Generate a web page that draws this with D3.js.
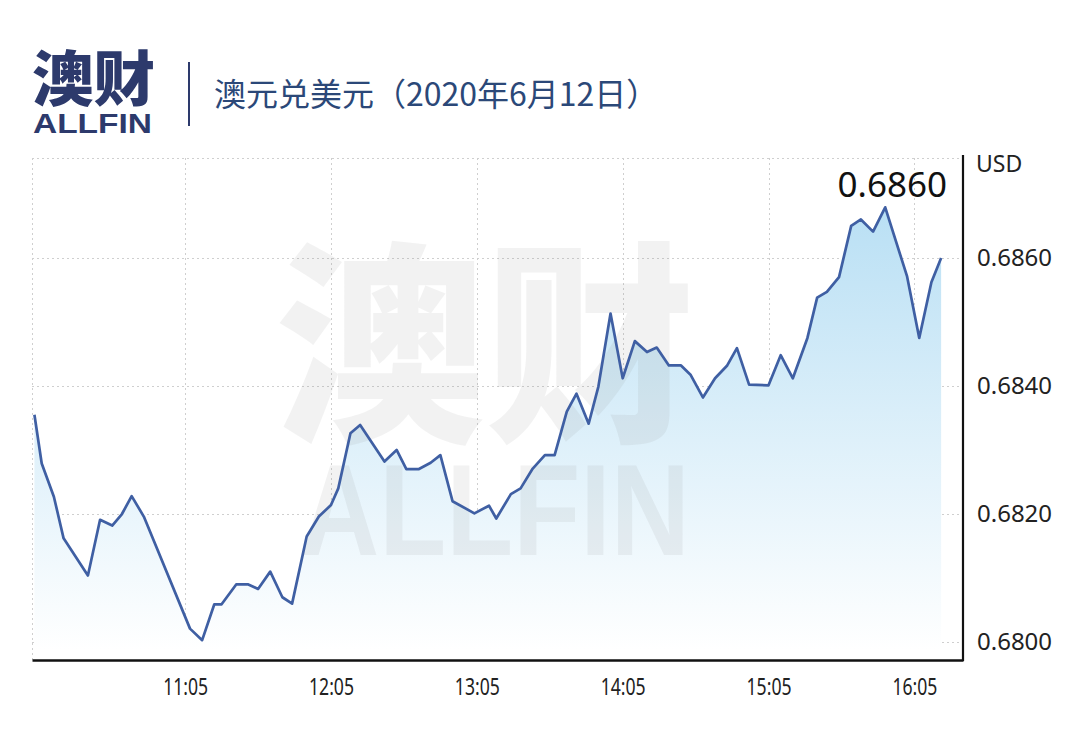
<!DOCTYPE html>
<html><head><meta charset="utf-8">
<script src="https://cdn.jsdelivr.net/npm/d3@7"></script>
<style>html,body{margin:0;padding:0;background:#fff;} svg{display:block}</style>
</head><body><svg id="c" width="1067" height="733"></svg>
<script>
// ---- data ----
const times = ["10:03","10:06","10:11","10:15","10:25","10:30","10:35","10:39","10:43","10:48",
  "11:07","11:12","11:17","11:20","11:26","11:31","11:35","11:40","11:45","11:49",
  "11:55","12:00","12:05","12:08","12:13","12:17","12:27","12:32","12:36","12:41",
  "12:46","12:50","12:55","13:04","13:10","13:13","13:19","13:23","13:28","13:33",
  "13:37","13:42","13:46","13:51","13:55","14:00","14:05","14:10","14:15","14:19",
  "14:24","14:29","14:33","14:38","14:43","14:48","14:52","14:57","15:05","15:10",
  "15:15","15:21","15:25","15:29","15:34","15:39","15:43","15:48","15:53","16:02",
  "16:07","16:12","16:16"];
const values = [0.68355,0.68279,0.68227,0.68162,0.68104,0.68191,0.68182,0.68200,0.68228,0.68196,
  0.68021,0.68003,0.68059,0.68059,0.68090,0.68090,0.68083,0.68110,0.68070,0.68060,
  0.68165,0.68196,0.68214,0.68240,0.68326,0.68339,0.68282,0.68300,0.68270,0.68270,
  0.68280,0.68292,0.68220,0.68201,0.68213,0.68193,0.68231,0.68240,0.68271,0.68292,
  0.68292,0.68360,0.68388,0.68341,0.68399,0.68513,0.68412,0.68470,0.68453,0.68460,
  0.68432,0.68432,0.68417,0.68382,0.68412,0.68432,0.68459,0.68402,0.68401,0.68448,
  0.68412,0.68475,0.68538,0.68547,0.68570,0.68650,0.68660,0.68641,0.68679,0.68571,
  0.68475,0.68562,0.68600];
const xTickLabels = ["11:05","12:05","13:05","14:05","15:05","16:05"];
const yTickValues = [0.6800, 0.6820, 0.6840, 0.6860];
const xDomain = ["10:02","16:25"];
const yDomain = [0.67972, 0.68756];
const unitLabel = "USD";
const titleText = "澳元兑美元（2020年6月12日）";
const logoCN = "澳财";
const logoEN = "ALLFIN";

// ---- drawing ----
const parse = d3.timeParse("%H:%M");
const data = times.map((t, i) => ({t: parse(t), v: values[i]}));
const svg = d3.select("#c");
const L = 32, R = 963, T = 158, B = 660;
const navy = "#2d3a6c";

const x = d3.scaleTime().domain(xDomain.map(parse)).range([L, R]);
const y = d3.scaleLinear().domain(yDomain).range([B, T]);

// header logo (one text element, two lines)
const logo = svg.append("text").attr("fill", navy);
logo.append("tspan").attr("x", 32).attr("y", 101).text(logoCN)
  .attr("font-family", "'Noto Sans CJK SC'").attr("font-weight", 900)
  .attr("font-size", 60)
  .attr("textLength", 123).attr("lengthAdjust", "spacingAndGlyphs");
logo.append("tspan").attr("x", 33).attr("y", 133).text(logoEN)
  .attr("font-family", "'Liberation Sans', Arial").attr("font-weight", 700)
  .attr("font-size", 27)
  .attr("textLength", 119).attr("lengthAdjust", "spacingAndGlyphs");
svg.append("line").attr("x1", 189).attr("x2", 189).attr("y1", 62).attr("y2", 126)
  .attr("stroke", navy).attr("stroke-width", 2);
svg.append("text").attr("x", 214).attr("y", 106).text(titleText)
  .attr("font-family", "'Noto Sans CJK SC'").attr("font-weight", 400)
  .attr("font-size", 32).attr("fill", "#2b4878");

// gradient
const defs = svg.append("defs");
const grad = defs.append("linearGradient").attr("id", "g")
  .attr("gradientUnits", "userSpaceOnUse").attr("x1", 0).attr("x2", 0).attr("y1", 200).attr("y2", 650);
grad.append("stop").attr("offset", 0).attr("stop-color", "#b8dff4");
grad.append("stop").attr("offset", 1).attr("stop-color", "#ffffff");

// grid
const grid = svg.append("g").attr("stroke", "#cfcfcf").attr("stroke-width", 1).attr("stroke-dasharray", "2,3");
grid.selectAll(".h").data(yTickValues.concat([yDomain[1]])).join("line")
  .attr("x1", L).attr("x2", R).attr("y1", d => Math.round(y(d)) + 0.5).attr("y2", d => Math.round(y(d)) + 0.5);
grid.selectAll(".v").data([xDomain[0]].concat(xTickLabels)).join("line")
  .attr("x1", d => Math.round(x(parse(d))) + 0.5).attr("x2", d => Math.round(x(parse(d))) + 0.5)
  .attr("y1", T).attr("y2", B);

// area
svg.append("path").datum(data)
  .attr("d", d3.area().x(d => x(d.t)).y0(B).y1(d => y(d.v)))
  .attr("fill", "url(#g)");

// watermark (one text element, two lines)
const wm = svg.append("text").attr("fill", "#8c8c8c").attr("fill-opacity", 0.11);
wm.append("tspan").attr("x", 275).attr("y", 425).text(logoCN)
  .attr("font-family", "'Noto Sans CJK SC'").attr("font-weight", 900).attr("font-size", 215)
  .attr("textLength", 420).attr("lengthAdjust", "spacingAndGlyphs");
wm.append("tspan").attr("x", 300).attr("y", 555).text(logoEN)
  .attr("font-family", "'Liberation Sans', Arial").attr("font-weight", 700).attr("font-size", 130)
  .attr("textLength", 390).attr("lengthAdjust", "spacingAndGlyphs");

// line
svg.append("path").datum(data)
  .attr("d", d3.line().x(d => x(d.t)).y(d => y(d.v)))
  .attr("fill", "none").attr("stroke", "#3f5fa3").attr("stroke-width", 2.7)
  .attr("stroke-linejoin", "round");

// axes
const ax = svg.append("g").attr("transform", `translate(0,${B})`)
  .call(d3.axisBottom(x).tickValues(xTickLabels.map(parse)).tickFormat(d3.timeFormat("%H:%M"))
    .tickSize(0).tickPadding(19));
ax.select(".domain").attr("stroke", "#111").attr("stroke-width", 2.6);
ax.selectAll("text").attr("font-family", "'Noto Sans'").attr("font-size", 23).attr("fill", "#222")
  .attr("textLength", 45).attr("lengthAdjust", "spacingAndGlyphs");

const ay = svg.append("g").attr("transform", `translate(${R},0)`)
  .call(d3.axisRight(y).tickValues(yTickValues).tickFormat(d3.format(".4f"))
    .tickSize(0).tickPadding(14));
ay.select(".domain").attr("stroke", "#111").attr("stroke-width", 2.2);
ay.selectAll("text").attr("font-family", "'Noto Sans'").attr("font-size", 24).attr("fill", "#222");
ay.select(".domain").attr("d", `M0,155V${B + 1}`);

svg.append("text").attr("x", 976).attr("y", 172).text(unitLabel)
  .attr("font-family", "'Noto Sans'").attr("font-size", 23).attr("fill", "#222");

// last value label
svg.append("text").attr("x", 947).attr("y", 197).attr("text-anchor", "end")
  .text(d3.format(".4f")(values[values.length - 1]))
  .attr("font-family", "'Noto Sans'").attr("font-size", 35).attr("fill", "#111");
</script></body></html>
